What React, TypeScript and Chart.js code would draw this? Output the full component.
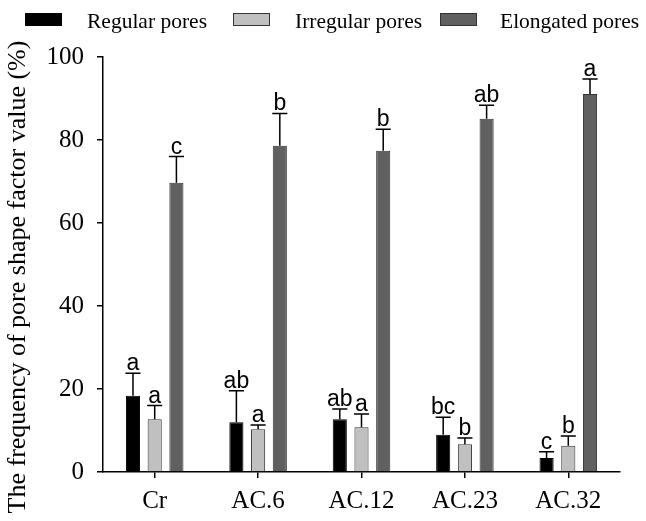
import React, { useEffect, useRef } from 'react';
import { Chart, registerables } from 'chart.js';

Chart.register(...registerables);

const categories = ['Cr', 'AC.6', 'AC.12', 'AC.23', 'AC.32'];
const seriesNames = ['Regular pores', 'Irregular pores', 'Elongated pores'];

const regularValues = [18.4, 12.0, 12.7, 9.0, 3.4];
const regularErrors = [5.4, 7.6, 2.5, 4.2, 1.5];
const regularLetters = ['a', 'ab', 'ab', 'bc', 'c'];

const irregularValues = [12.7, 10.3, 10.8, 6.7, 6.3];
const irregularErrors = [3.3, 1.0, 3.2, 1.5, 2.4];
const irregularLetters = ['a', 'a', 'a', 'b', 'b'];

const elongatedValues = [69.7, 78.6, 77.4, 85.1, 91.1];
const elongatedErrors = [6.3, 7.8, 5.2, 3.3, 3.6];
const elongatedLetters = ['c', 'b', 'b', 'ab', 'a'];

const yTickValues = [0, 20, 40, 60, 80, 100];
const yTitle = 'The frequency of pore shape factor value (%)';

const seriesColors = ['#000000', '#c0c0c0', '#606060'];
const seriesBorders = ['#000000', '#333333', '#333333'];

const allValues = [regularValues, irregularValues, elongatedValues];
const allErrors = [regularErrors, irregularErrors, elongatedErrors];
const allLetters = [regularLetters, irregularLetters, elongatedLetters];

const SERIF = '"Liberation Serif", "Times New Roman", serif';
const SANS = '"Liberation Sans", Arial, sans-serif';

const overlayPlugin = {
  id: 'overlay',
  afterDatasetsDraw(chart: any) {
    const ctx = chart.ctx;
    const yScale = chart.scales.y;
    ctx.save();
    chart.data.datasets.forEach((_ds: any, i: number) => {
      const meta = chart.getDatasetMeta(i);
      meta.data.forEach((el: any, j: number) => {
        const v = allValues[i][j];
        const e = allErrors[i][j];
        const yBar = yScale.getPixelForValue(v);
        const yTop = yScale.getPixelForValue(v + e);
        const half = el.width / 2 + 0.5;
        ctx.strokeStyle = '#000';
        ctx.lineWidth = 1.5;
        ctx.beginPath();
        ctx.moveTo(el.x, yBar);
        ctx.lineTo(el.x, yTop);
        ctx.moveTo(el.x - half, yTop);
        ctx.lineTo(el.x + half, yTop);
        ctx.stroke();
        ctx.font = `23px ${SANS}`;
        ctx.textAlign = 'center';
        ctx.textBaseline = 'alphabetic';
        ctx.fillStyle = '#000';
        ctx.fillText(allLetters[i][j], el.x, yTop - 3);
      });
    });
    ctx.restore();
  },
  afterDraw(chart: any) {
    const ctx = chart.ctx;
    ctx.save();
    // legend
    const boxX = [25, 233, 440];
    const textX = [87, 295, 500];
    ctx.font = `21.5px ${SERIF}`;
    ctx.textAlign = 'left';
    ctx.textBaseline = 'alphabetic';
    seriesNames.forEach((name, i) => {
      ctx.fillStyle = seriesColors[i];
      ctx.fillRect(boxX[i], 13, 37, 13);
      ctx.strokeStyle = seriesBorders[i];
      ctx.lineWidth = 1;
      ctx.strokeRect(boxX[i] + 0.5, 13.5, 36, 12);
      ctx.fillStyle = '#000';
      ctx.fillText(name, textX[i], 28);
    });
    // y-axis title
    ctx.translate(18, 277);
    ctx.rotate(-Math.PI / 2);
    ctx.font = `26px ${SERIF}`;
    ctx.textAlign = 'center';
    ctx.textBaseline = 'middle';
    ctx.fillStyle = '#000';
    ctx.fillText(yTitle, 0, 0);
    ctx.restore();
  },
};

export default function App() {
  const canvasRef = useRef<HTMLCanvasElement | null>(null);

  useEffect(() => {
    if (!canvasRef.current) return;
    const chart = new Chart(canvasRef.current, {
      type: 'bar',
      data: {
        labels: categories,
        datasets: seriesNames.map((name, i) => ({
          label: name,
          data: allValues[i],
          backgroundColor: seriesColors[i],
          borderColor: seriesBorders[i],
          borderWidth: 1,
          categoryPercentage: 0.63,
          barPercentage: 0.65,
        })),
      },
      options: {
        responsive: false,
        animation: false,
        layout: { padding: { top: 57, right: 26, left: 0, bottom: 0 } },
        plugins: {
          legend: { display: false },
          tooltip: { enabled: false },
        },
        scales: {
          x: {
            type: 'category',
            offset: true,
            grid: {
              offset: false,
              drawOnChartArea: false,
              drawTicks: true,
              tickLength: 6,
              color: '#000',
              lineWidth: 1.5,
            },
            border: { display: true, color: '#000', width: 1.5 },
            ticks: {
              color: '#000',
              font: { family: SERIF, size: 25 },
              padding: 8,
              maxRotation: 0,
            },
            afterFit: (scale: any) => {
              scale.height = 49;
            },
          },
          y: {
            type: 'linear',
            min: 0,
            max: 100,
            afterBuildTicks: (scale: any) => {
              scale.ticks = yTickValues.map((v) => ({ value: v }));
            },
            grid: {
              drawOnChartArea: false,
              drawTicks: true,
              tickLength: 6,
              color: '#000',
              lineWidth: 1.5,
            },
            border: { display: true, color: '#000', width: 1.5 },
            ticks: {
              color: '#000',
              font: { family: SERIF, size: 25 },
              padding: 13,
            },
            afterFit: (scale: any) => {
              scale.width = 103;
            },
          },
        },
      },
      plugins: [overlayPlugin],
    });
    return () => chart.destroy();
  }, []);

  return (
    <div style={{ position: 'fixed', left: 0, top: 0, width: 646, height: 521, background: '#fff' }}>
      <canvas ref={canvasRef} width={646} height={521} />
    </div>
  );
}
